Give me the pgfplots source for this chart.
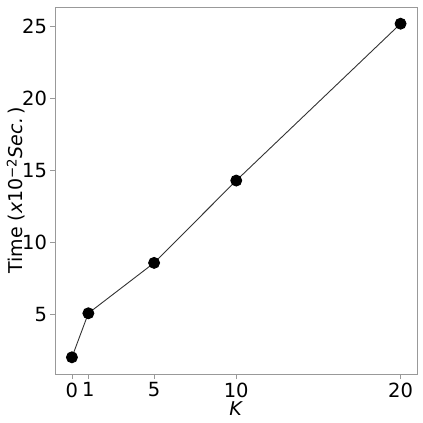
\documentclass[border=0pt]{standalone}
\usepackage{fontspec}
\setmainfont{DejaVu Sans}
\usepackage{pgfplots}
\pgfplotsset{compat=1.18}

\begin{document}
\begin{tikzpicture}[x=1pt,y=1pt]
\path[use as bounding box] (-55.5,-49) rectangle (367.5,374);
\begin{axis}[at={(0,0)},anchor=south west,
  width=361.5pt,height=367pt,scale only axis,
  xmin=-1,xmax=21,ymin=0.86,ymax=26.36,
  xtick={0,1,5,10,20},ytick={5,10,15,20,25},
  axis line style={draw=gray!80,line width=0.8pt},
  tick style={draw=gray!80,line width=0.8pt},
  tick align=outside,major tick length=5pt,
  xtick pos=bottom,ytick pos=left,
  /pgf/number format/assume math mode=true,
  ticklabel style={font=\fontsize{19.5}{21}\selectfont},
  label style={font=\fontsize{19}{21}\selectfont},
  xlabel={\textit{K}},
  ylabel={Time (\textit{x}10\textsuperscript{−2}\textit{Sec.}\,)},
  xlabel style={yshift=2pt},
  ylabel style={yshift=-10pt},
  clip=false]
  \addplot[sharp plot,color=black!80,line width=0.9pt,mark=*,mark size=5.5pt,
    mark options={fill=black,draw=black}]
    coordinates {(0,2.02)(1,5.08)(5,8.58)(10,14.3)(20,25.2)};
\end{axis}
\end{tikzpicture}
\end{document}
